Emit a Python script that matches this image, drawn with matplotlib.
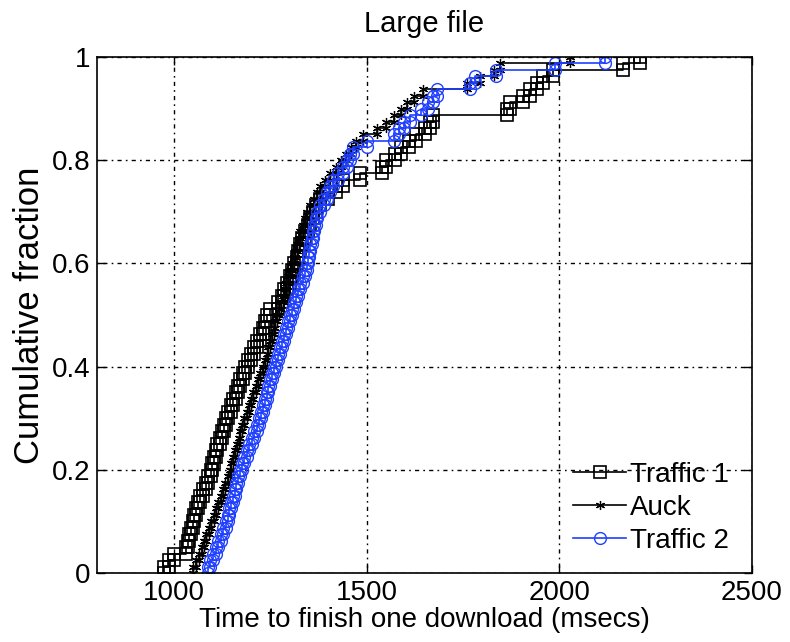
import numpy as np
import matplotlib
matplotlib.use('Agg')
import matplotlib.pyplot as plt

# -------------------------------------------------------------------
# sorted download times (msecs), one per sample, 80 samples each
traffic1 = [975, 988, 1000, 1032, 1036, 1040, 1044, 1048, 1052, 1057,
            1062, 1068, 1075, 1082, 1088, 1095, 1099, 1104, 1108, 1112,
            1118, 1124, 1130, 1135, 1141, 1148, 1154, 1160, 1166, 1172,
            1178, 1185, 1192, 1200, 1207, 1215, 1222, 1230, 1236, 1242,
            1249, 1270, 1280, 1286, 1293, 1300, 1306, 1312, 1318, 1322,
            1327, 1333, 1340, 1347, 1353, 1360, 1368, 1380, 1400, 1420,
            1438, 1483, 1540, 1550, 1573, 1590, 1610, 1628, 1650, 1665,
            1672, 1864, 1872, 1905, 1924, 1942, 1958, 1983, 2165, 2209]

auck = [1050, 1058, 1066, 1072, 1078, 1084, 1090, 1097, 1103, 1109,
        1115, 1121, 1127, 1133, 1139, 1145, 1149, 1154, 1158, 1163,
        1168, 1172, 1177, 1182, 1188, 1194, 1200, 1206, 1212, 1218,
        1224, 1230, 1235, 1240, 1245, 1249, 1254, 1259, 1263, 1268,
        1273, 1277, 1282, 1287, 1291, 1296, 1300, 1305, 1310, 1315,
        1320, 1324, 1328, 1334, 1340, 1346, 1354, 1362, 1371, 1380,
        1392, 1405, 1420, 1432, 1447, 1460, 1473, 1490, 1527, 1550,
        1570, 1588, 1605, 1622, 1646, 1760, 1794, 1830, 1846, 2028]

traffic2 = [1088, 1094, 1101, 1108, 1115, 1121, 1128, 1135, 1139, 1143,
            1148, 1152, 1157, 1161, 1166, 1170, 1176, 1182, 1189, 1195,
            1201, 1207, 1214, 1220, 1225, 1230, 1235, 1240, 1245, 1250,
            1255, 1260, 1265, 1270, 1275, 1280, 1285, 1290, 1295, 1300,
            1305, 1311, 1316, 1322, 1328, 1334, 1340, 1345, 1348, 1351,
            1354, 1357, 1360, 1364, 1368, 1372, 1380, 1388, 1396, 1404,
            1412, 1425, 1438, 1448, 1457, 1465, 1500, 1570, 1585, 1598,
            1612, 1640, 1658, 1672, 1682, 1768, 1780, 1835, 1989, 2118]

labels = ['Traffic 1', 'Auck', 'Traffic 2']
xticks = [1000, 1500, 2000, 2500]
yticks = [0, 0.2, 0.4, 0.6, 0.8, 1]
ytlabs = ['0', '0.2', '0.4', '0.6', '0.8', '1']

# -------------------------------------------------------------------
def ecdf(t):
  # stairs with a point at the bottom and top of every jump
  t = np.sort(np.asarray(t, dtype=float))
  n = len(t)
  xs = np.repeat(t, 2)
  ys = np.empty(2*n)
  ys[0::2] = np.arange(n) / float(n)
  ys[1::2] = np.arange(1, n+1) / float(n)
  return xs, ys

plt.rcParams['font.family'] = ['Liberation Sans', 'DejaVu Sans']

fig = plt.figure(figsize=(7.9, 6.42), dpi=100)
ax = fig.add_axes([0.1228, 0.1075, 0.8291, 0.8037])

blue = '#1f3fff'
x1, y1 = ecdf(traffic1)
x2, y2 = ecdf(auck)
x3, y3 = ecdf(traffic2)

ax.plot(x1, y1, '-', color='k', lw=1.2, marker='s', ms=8,
        mfc='none', mec='k', mew=1.2, label=labels[0])
ax.plot(x2, y2, '-', color='k', lw=1.2, marker=(6, 2, 0), ms=6.5,
        mec='k', mew=0.9, label=labels[1])
ax.plot(x3, y3, '-', color=blue, lw=1.2, marker='o', ms=8.5,
        mfc='none', mec=blue, mew=1.0, label=labels[2])

ax.set_xlim(800, 2500)
ax.set_ylim(0, 1)
ax.set_xticks(xticks)
ax.set_yticks(yticks)
ax.set_yticklabels(ytlabs)
ax.tick_params(direction='in', top=True, right=True, labelsize=20,
               length=6, width=1, pad=5)

ax.grid(True, color='k', linestyle=(0, (1.2, 3, 3, 3)), lw=1.0)
ax.set_axisbelow(True)
for s in ax.spines.values():
  s.set_linewidth(1.2)

ax.set_title('Large file', fontsize=21, pad=18)
ax.set_xlabel('Time to finish one download (msecs)', fontsize=20, labelpad=1)
ax.set_ylabel('Cumulative fraction', fontsize=25, labelpad=4)

leg = ax.legend(loc='lower right', frameon=False, fontsize=20,
                handlelength=1.9, handletextpad=0.15, labelspacing=0.25,
                borderaxespad=0.3, bbox_to_anchor=(0.995, 0.0))

plt.savefig('out.png', dpi=100)
plt.close()
